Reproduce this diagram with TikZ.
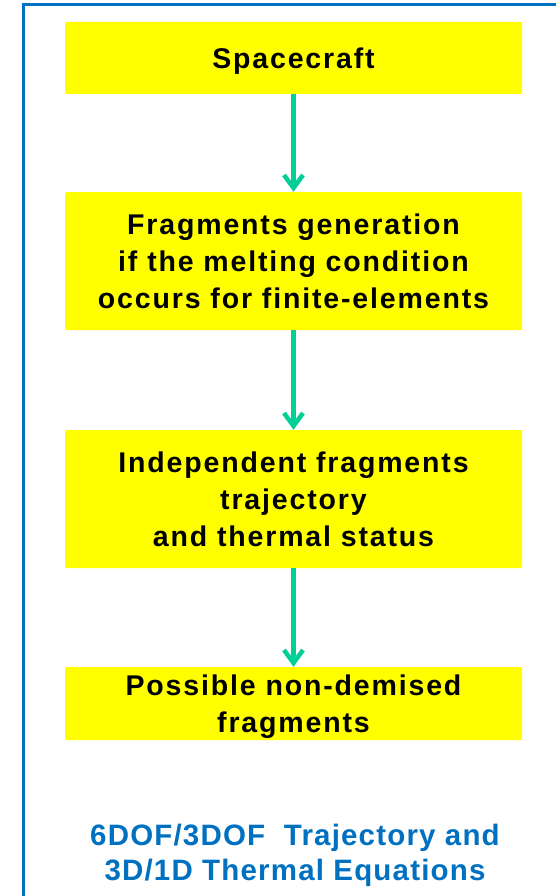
\documentclass[tikz,border=0pt]{standalone}
\usepackage{fontspec}
\setmainfont{Liberation Sans}
\newfontfamily\spacedsans[LetterSpace=6.5]{Liberation Sans}
\newfontfamily\titlesans[LetterSpace=4]{Liberation Sans}
\usepackage{xcolor}
\usetikzlibrary{arrows.meta, positioning}
\definecolor{boxyellow}{RGB}{255,255,0}
\definecolor{flowgreen}{RGB}{0,208,150}
\definecolor{frameblue}{RGB}{0,112,192}

\begin{document}
\begin{tikzpicture}[x=1pt, y=1pt,
  stage/.style={fill=boxyellow, rounded corners=1.5pt, minimum width=457pt,
    align=center, font=\spacedsans\fontsize{28.5}{37}\selectfont\bfseries, inner sep=0pt},
  flow/.style={draw=flowgreen, line width=4.5pt, -{Straight Barb[length=13pt, width=19pt]}}]
  \useasboundingbox (0,0) rectangle (556,-896);
  \draw[frameblue, line width=3pt] (23.5,-900) |- (560,-4.5);
  % the four stages
  \node[stage, minimum height=72pt, text depth=0pt]  (craft)  at (293.5,-58)    {Spacecraft};
  \node[stage, minimum height=138pt] (frag)   at (293.5,-261)   {Fragments generation\\if the melting condition\\occurs for finite-elements};
  \node[stage, minimum height=138pt] (indep)  at (293.5,-499)   {Independent fragments\\trajectory\\and thermal status};
  \node[stage, minimum height=73pt, text depth=0pt]  (nondem) at (293.5,-703.5) {Possible non-demised\\fragments};
  \foreach \a/\b in {craft/frag, frag/indep, indep/nondem}{
    \draw[flow] (\a) -- (\b);
  }
  \node[text=frameblue, align=center, font=\titlesans\fontsize{29.5}{35}\selectfont\bfseries] (eqs) at (295,-855)
    {6DOF/3DOF\ \ Trajectory and\\3D/1D Thermal Equations};
\end{tikzpicture}
\end{document}
